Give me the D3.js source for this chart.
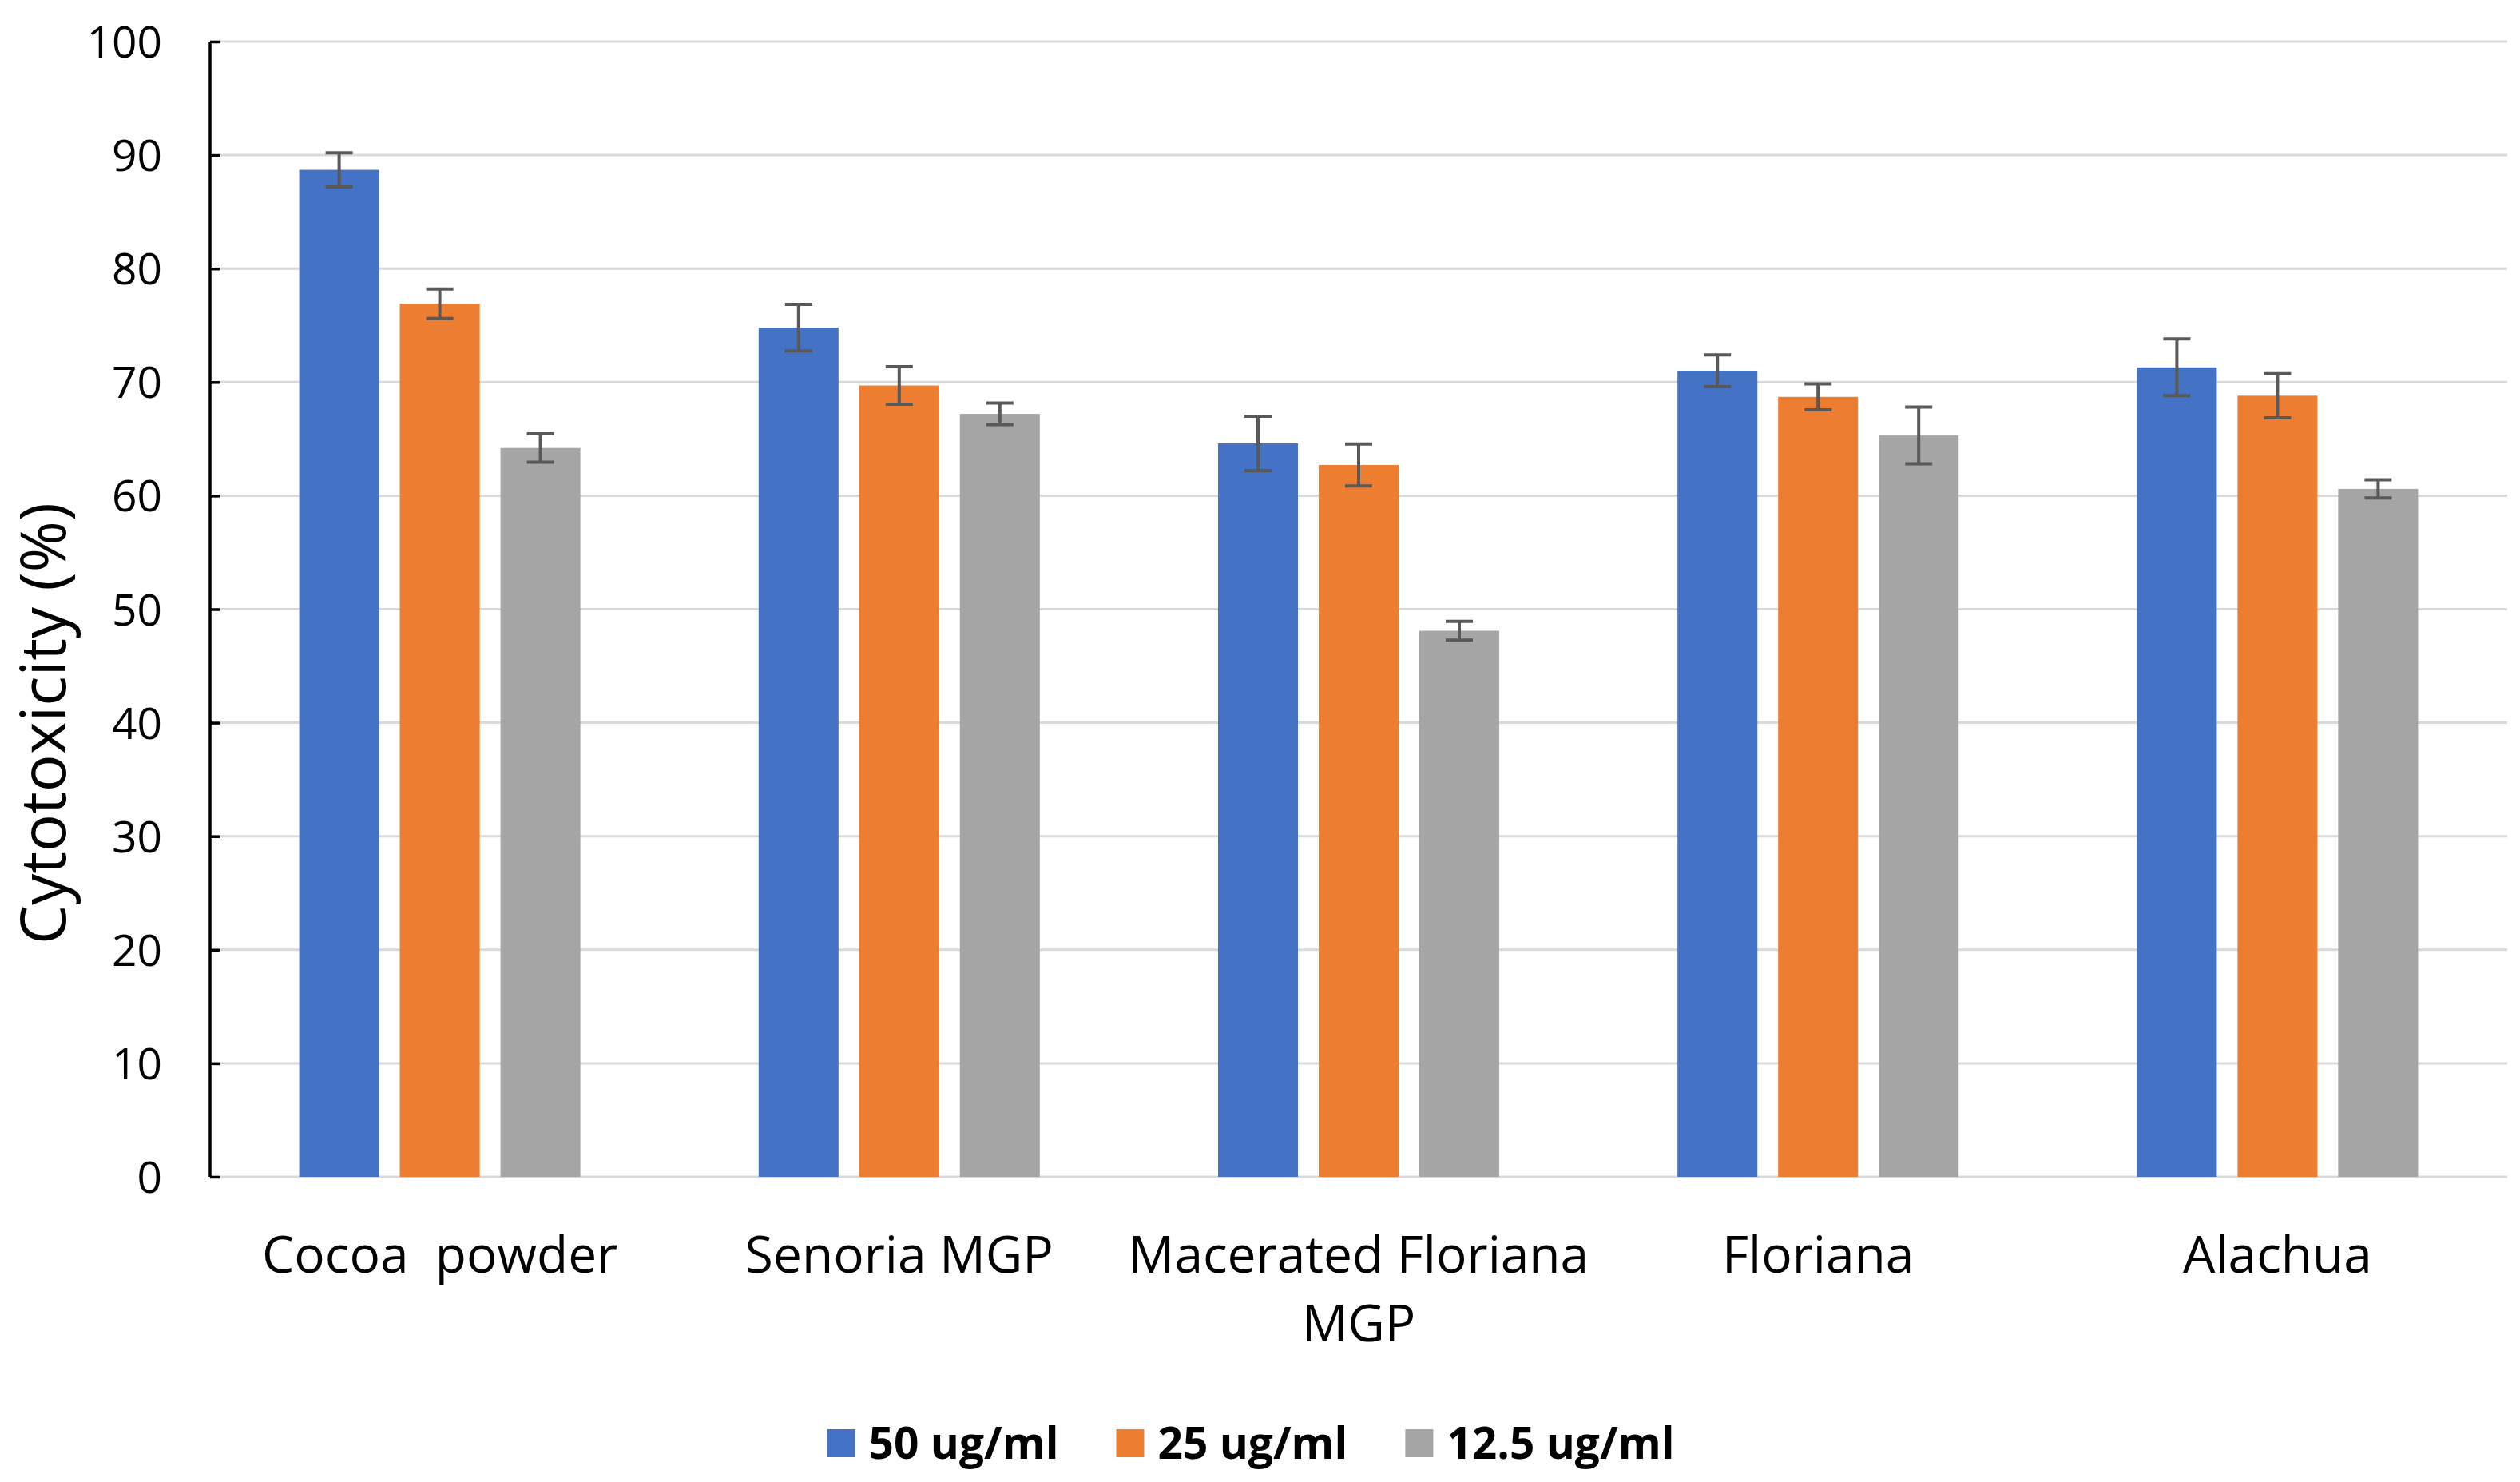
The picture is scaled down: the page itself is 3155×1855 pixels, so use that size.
<!DOCTYPE html>
<html>
<head>
<meta charset="utf-8">
<script src="https://cdn.jsdelivr.net/npm/d3@7"></script>
<style>
  html, body { margin: 0; padding: 0; background: #fff; }
  svg { display: block; font-family: "Open Sans", "Noto Sans", sans-serif; }
</style>
</head>
<body>
<svg id="chart" width="3155" height="1855"></svg>
<script>
// ---- data ----
const categories = ["Cocoa  powder", "Senoria MGP", "Macerated Floriana MGP", "Floriana", "Alachua"];
const seriesNames = ["50 ug/ml", "25 ug/ml", "12.5 ug/ml"];
const values50  = [88.7, 74.8, 64.6, 71.0, 71.3];
const errors50  = [1.5, 2.05, 2.4, 1.4, 2.5];
const values25  = [76.9, 69.7, 62.7, 68.7, 68.8];
const errors25  = [1.3, 1.65, 1.85, 1.15, 1.95];
const values125 = [64.2, 67.2, 48.1, 65.3, 60.6];
const errors125 = [1.25, 0.95, 0.83, 2.5, 0.8];
const yTicks = [0, 10, 20, 30, 40, 50, 60, 70, 80, 90, 100];
const yTitle = "Cytotoxicity (%)";
const colors = ["#4472C4", "#ED7D31", "#A5A5A5"];

const seriesValues = [values50, values25, values125];
const seriesErrors = [errors50, errors25, errors125];

// ---- layout ----
const W = 3155, H = 1855;
const margin = {left: 263, right: 16, top: 52, bottom: 382};
const svg = d3.select("#chart");

const x = d3.scaleBand().domain(categories).range([margin.left, W - margin.right]).paddingInner(0).paddingOuter(0);
const step = x.step();
const xs = d3.scaleBand().domain(seriesNames).range([step * 0.194, step * 0.806]).paddingInner(0.206);
const y = d3.scaleLinear().domain([0, 100]).range([H - margin.bottom, margin.top]);

// gridlines
svg.append("g").selectAll("line").data(yTicks).join("line")
  .attr("x1", margin.left).attr("x2", W - margin.right)
  .attr("y1", d => y(d)).attr("y2", d => y(d))
  .attr("stroke", "#D9D9D9").attr("stroke-width", 3);

// bars
const rows = [];
seriesNames.forEach((s, si) => {
  categories.forEach((c, ci) => {
    rows.push({s, si, c, v: seriesValues[si][ci], e: seriesErrors[si][ci]});
  });
});

svg.append("g").selectAll("rect").data(rows).join("rect")
  .attr("x", d => x(d.c) + xs(d.s))
  .attr("width", xs.bandwidth())
  .attr("y", d => y(d.v))
  .attr("height", d => y(0) - y(d.v))
  .attr("fill", d => colors[d.si]);

// error bars
const eg = svg.append("g").attr("stroke", "#595959").attr("stroke-width", 4);
const cap = 34;
rows.forEach(d => {
  const cx = x(d.c) + xs(d.s) + xs.bandwidth() / 2;
  eg.append("line").attr("x1", cx).attr("x2", cx).attr("y1", y(d.v + d.e)).attr("y2", y(d.v - d.e));
  eg.append("line").attr("x1", cx - cap / 2).attr("x2", cx + cap / 2).attr("y1", y(d.v + d.e)).attr("y2", y(d.v + d.e));
  eg.append("line").attr("x1", cx - cap / 2).attr("x2", cx + cap / 2).attr("y1", y(d.v - d.e)).attr("y2", y(d.v - d.e));
});

// y axis (ticks inside)
const yAxis = d3.axisRight(y).tickValues(yTicks).tickSize(12).tickFormat("");
const ya = svg.append("g").attr("transform", `translate(${margin.left},0)`).call(yAxis);
ya.select(".domain").attr("stroke", "#000").attr("stroke-width", 3.5).attr("d", `M0,${y(100)}V${y(0)}`);
ya.selectAll(".tick line").attr("stroke", "#000").attr("stroke-width", 3.5);

// y tick labels
svg.append("g").selectAll("text").data(yTicks).join("text")
  .attr("x", 203).attr("y", d => y(d) + 20)
  .attr("text-anchor", "end")
  .attr("font-size", 55).attr("fill", "#000")
  .text(d => d);

// y title
svg.append("text")
  .attr("transform", `translate(82,${(y(0) + y(100)) / 2 + 143}) rotate(-90)`)
  .attr("text-anchor", "middle")
  .attr("font-size", 78).attr("fill", "#000")
  .text(yTitle);

// category labels with wrapping
const catG = svg.append("g");
const wrapWidth = step * 1.12;
categories.forEach(c => {
  const t = catG.append("text")
    .attr("x", x(c) + step / 2).attr("y", 1593)
    .attr("text-anchor", "middle").attr("font-size", 64).attr("fill", "#000");
  const words = c.split(" ");
  let lines = [];
  let cur = "";
  const probe = catG.append("text").attr("font-size", 64).style("white-space", "pre");
  words.forEach(w => {
    const trial = cur === "" ? w : cur + " " + w;
    probe.text(trial);
    if (probe.node().getComputedTextLength() > wrapWidth && cur !== "") {
      lines.push(cur); cur = w;
    } else cur = trial;
  });
  lines.push(cur);
  probe.remove();
  t.style("white-space", "pre");
  lines.forEach((l, i) => {
    t.append("tspan").attr("x", x(c) + step / 2).attr("dy", i === 0 ? 0 : 86).text(l);
  });
});

// legend
const lg = svg.append("g");
const items = [];
seriesNames.forEach((s, i) => {
  const g = lg.append("g");
  g.append("rect").attr("width", 35).attr("height", 35).attr("y", 1789).attr("fill", colors[i]);
  const tx = g.append("text").attr("x", 52).attr("y", 1826)
    .attr("font-size", 55).attr("font-weight", "bold").attr("fill", "#000").text(s);
  items.push({g, w: 52 + tx.node().getComputedTextLength()});
});
const gap = 72;
const total = d3.sum(items, d => d.w) + gap * (items.length - 1);
let cx0 = 1566 - total / 2;
items.forEach(it => { it.g.attr("transform", `translate(${cx0},0)`); cx0 += it.w + gap; });
</script>
</body>
</html>
